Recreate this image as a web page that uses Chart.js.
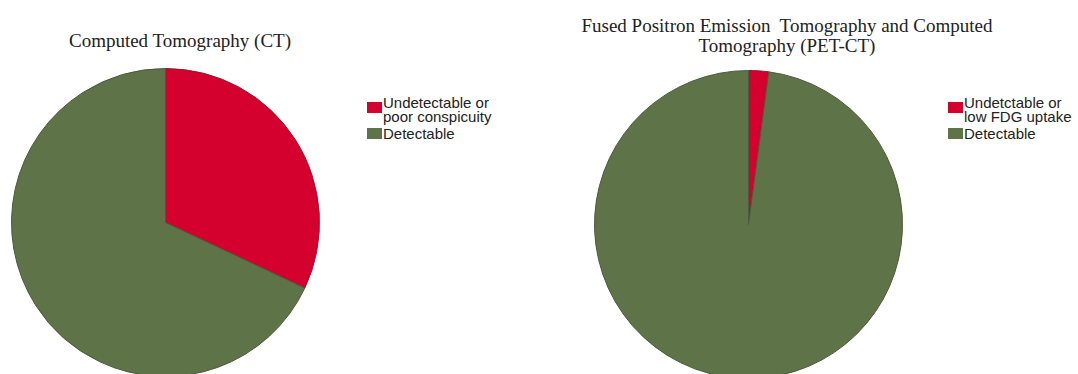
<!DOCTYPE html>
<html>
<head>
<meta charset="utf-8">
<script src="https://cdn.jsdelivr.net/npm/chart.js@4.4.1/dist/chart.umd.min.js"></script>
<style>
  html, body { margin: 0; padding: 0; background: #fff; overflow: hidden; }
  #wrap { position: relative; width: 1078px; height: 374px; overflow: hidden; background: #fff; }
  .pie { position: absolute; }
  .title { position: absolute; text-align: center; font-family: "Liberation Serif", "Times New Roman", serif;
           font-size: 19px; line-height: 20px; color: #222; white-space: pre; }
  .legend { position: absolute; font-family: "Liberation Sans", Arial, sans-serif; font-size: 15px;
            line-height: 13.5px; color: #222; }
  .item { position: relative; padding-left: 16px; margin-bottom: 3.5px; }
  .sw { position: absolute; left: 0; width: 15px; height: 11px; }
</style>
</head>
<body>
<div id="wrap">
  <div class="title" id="t1" style="left:0px; top:31px; width:360px;"></div>
  <div class="title" id="t2" style="left:557px; top:16px; width:460px;"></div>
  <div class="pie" style="left:11px; top:68px; width:309px; height:309px;"><canvas id="c1"></canvas></div>
  <div class="pie" style="left:594px; top:70px; width:309px; height:309px;"><canvas id="c2"></canvas></div>
  <div class="legend" id="l1" style="left:367px; top:96px;"></div>
  <div class="legend" id="l2" style="left:948px; top:96px;"></div>
</div>
<script>
// ---- data ----
const ctTitle = ["Computed Tomography (CT)"];
const ctLabels = [["Undetectable or", "poor conspicuity"], ["Detectable"]];
const ctValues = [32, 68];

const petTitle = ["Fused Positron Emission  Tomography and Computed", "Tomography (PET-CT)"];
const petLabels = [["Undetctable or", "low FDG uptake"], ["Detectable"]];
const petValues = [2.1, 97.9];

const sliceColors = ["#d4002e", "#5e7448"];
const sliceBorders = ["#8f1a2a", "#4a5a3a"];

function buildTitle(id, lines) {
  document.getElementById(id).textContent = lines.join("\n");
}
function buildLegend(id, labels) {
  const el = document.getElementById(id);
  labels.forEach((lines, i) => {
    const it = document.createElement("div");
    it.className = "item";
    const sw = document.createElement("div");
    sw.className = "sw";
    sw.style.background = sliceColors[i];
    sw.style.top = (lines.length > 1 ? 6 : 1) + "px";
    it.appendChild(sw);
    lines.forEach(l => {
      const d = document.createElement("div");
      d.textContent = l;
      it.appendChild(d);
    });
    el.appendChild(it);
  });
}
function buildPie(id, labels, values) {
  new Chart(document.getElementById(id), {
    type: "pie",
    data: {
      labels: labels.map(l => l.join(" ")),
      datasets: [{
        data: values,
        backgroundColor: sliceColors,
        borderColor: sliceBorders,
        borderWidth: 1,
        hoverOffset: 0
      }]
    },
    options: {
      responsive: true,
      maintainAspectRatio: false,
      animation: false,
      layout: { padding: 0 },
      plugins: { legend: { display: false }, title: { display: false }, tooltip: { enabled: false } }
    }
  });
}
buildTitle("t1", ctTitle);
buildTitle("t2", petTitle);
buildLegend("l1", ctLabels);
buildLegend("l2", petLabels);
buildPie("c1", ctLabels, ctValues);
buildPie("c2", petLabels, petValues);
</script>
</body>
</html>
